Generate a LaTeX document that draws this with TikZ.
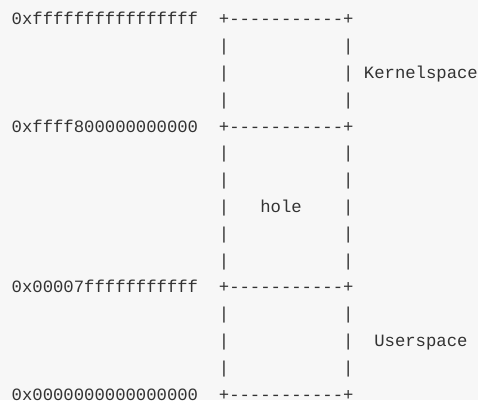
\documentclass[tikz,border=0pt]{standalone}
\usepackage{fontspec}
\setmonofont{Liberation Mono}
\usepackage{tikz}
\definecolor{pagebg}{HTML}{F7F7F7}
\definecolor{ink}{HTML}{333333}

\begin{document}
\begin{tikzpicture}[
    x=10.36pt, y=-26.83pt,
    code/.style={anchor=base west, inner sep=0pt, text=ink, font=\ttfamily\fontsize{17.26}{20}\selectfont},
    addr/.style={code},
    border/.style={code},
    wall/.style={code}
  ]
    \fill[pagebg] (-1.11,-0.92) rectangle (45.03,13.99);
    \useasboundingbox (-1.11,-0.92) rectangle (45.03,13.99);
    % addresses on the left
    \node[addr] (addrtop)  at (0,0)  {0xffffffffffffffff};
    \node[addr] (addrkern) at (0,4)  {0xffff800000000000};
    \node[addr] (addruser) at (0,10) {0x00007fffffffffff};
    \node[addr] (addrzero) at (0,14) {0x0000000000000000};
    % region borders
    \foreach \r/\n in {0/top, 4/kern, 10/user, 14/zero}
      \node[border] (bd\n) at (20,\r) {+-{}-{}-{}-{}-{}-{}-{}-{}-{}-{}-+};
    % side walls
    \foreach \r in {1,2,3,5,6,7,8,9,11,12,13} {
      \node[wall] (lw\r) at (20,\r) {|};
      \node[wall] (rw\r) at (32,\r) {|};
    }
    % region names
    \node[code] (kernel) at (34,2)  {Kernelspace};
    \node[code] (hole)   at (24,7)  {hole};
    \node[code] (user)   at (35,12) {Userspace};
  \end{tikzpicture}
\end{document}
